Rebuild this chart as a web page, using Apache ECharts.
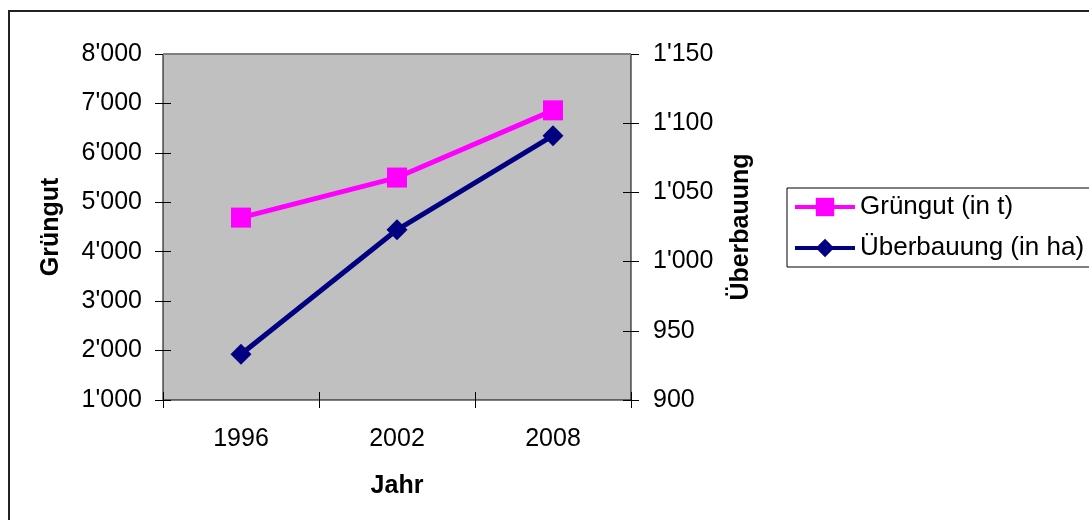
<!DOCTYPE html>
<html>
<head>
<meta charset="utf-8">
<script src="https://cdn.jsdelivr.net/npm/echarts@6/dist/echarts.min.js"></script>
<style>
  html, body { margin: 0; padding: 0; background: #fff; }
  #chart { width: 1089px; height: 520px; }
</style>
</head>
<body>
<div id="chart"></div>
<script>
// Jahre und Messwerte
const years = ['1996', '2002', '2008'];
const gruengut = [4690, 5500, 6860];      // Grüngut in t
const ueberbauung = [933, 1023, 1091];    // Überbauung in ha

const leftTicks = { min: 1000, max: 8000, interval: 1000 };
const rightTicks = { min: 900, max: 1150, interval: 50 };

const FONT = '"Liberation Sans", Arial, sans-serif';

// Tausendertrennzeichen mit Apostroph
function swiss(v) {
  return String(Math.round(v)).replace(/\B(?=(\d{3})+(?!\d))/g, "'");
}

const tickLabel = { fontFamily: FONT, fontSize: 25, color: '#000' };
const nameStyle = { fontFamily: FONT, fontSize: 25, fontWeight: 'bold', color: '#000' };
// Achsen werden um 8 px nach innen versetzt, damit die 16 px langen
// Teilstriche die Achslinie (Rahmen des Diagrammbereichs) kreuzen.
const TICK_HALF = 8;
const crossTick = { show: true, inside: false, length: TICK_HALF * 2, lineStyle: { color: '#000', width: 1 } };

const GRID = { left: 163, top: 54, right: 458, bottom: 120 };

const chart = echarts.init(document.getElementById('chart'), null, { renderer: 'canvas' });

chart.setOption({
  backgroundColor: '#fff',
  animation: false,
  graphic: [{
    type: 'rect',
    shape: { x: 9, y: 11, width: 1200, height: 600 },
    style: { fill: 'none', stroke: '#222', lineWidth: 2 },
    silent: true,
    z: -10
  }, {
    // obere Kante des Diagrammbereichs in Grau
    type: 'line',
    shape: { x1: GRID.left, y1: GRID.top, x2: 1089 - GRID.right, y2: GRID.top },
    style: { stroke: '#808080', lineWidth: 2 },
    silent: true,
    z: 1
  }],
  grid: {
    left: GRID.left, top: GRID.top, right: GRID.right, bottom: GRID.bottom,
    show: true,
    backgroundColor: '#C0C0C0',
    borderColor: '#000',
    borderWidth: 1
  },
  legend: {
    left: 787,
    top: 188,
    orient: 'vertical',
    borderColor: '#000',
    borderWidth: 1,
    padding: [6, 6, 6, 6],
    itemWidth: 60,
    itemHeight: 23,
    itemGap: 15,
    lineStyle: { width: 4 },
    textStyle: { fontFamily: FONT, fontSize: 26, color: '#000' },
    data: ['Grüngut (in t)', 'Überbauung (in ha)']
  },
  xAxis: [{
    type: 'category',
    data: years,
    position: 'bottom',
    offset: -TICK_HALF,
    boundaryGap: true,
    name: 'Jahr',
    nameLocation: 'middle',
    nameGap: 74 + TICK_HALF,
    nameTextStyle: nameStyle,
    axisLine: { show: false },
    axisTick: crossTick,
    axisLabel: Object.assign({ margin: 27 + TICK_HALF }, tickLabel),
    splitLine: { show: false }
  }],
  yAxis: [{
    type: 'value',
    position: 'left',
    offset: -TICK_HALF,
    min: leftTicks.min, max: leftTicks.max, interval: leftTicks.interval,
    name: 'Grüngut',
    nameLocation: 'middle',
    nameRotate: 90,
    nameGap: 99 + TICK_HALF,
    nameTextStyle: nameStyle,
    axisLine: { show: false },
    axisTick: crossTick,
    axisLabel: Object.assign({ margin: 21 + TICK_HALF, formatter: swiss }, tickLabel),
    splitLine: { show: false }
  }, {
    type: 'value',
    position: 'right',
    offset: -TICK_HALF,
    min: rightTicks.min, max: rightTicks.max, interval: rightTicks.interval,
    name: 'Überbauung',
    nameLocation: 'middle',
    nameRotate: 90,
    nameGap: 98 + TICK_HALF,
    nameTextStyle: nameStyle,
    axisLine: { show: false },
    axisTick: crossTick,
    axisLabel: Object.assign({ margin: 22 + TICK_HALF, formatter: swiss }, tickLabel),
    splitLine: { show: false }
  }],
  series: [{
    name: 'Grüngut (in t)',
    type: 'line',
    xAxisIndex: 0,
    yAxisIndex: 0,
    data: gruengut,
    symbol: 'rect',
    symbolSize: 20,
    showAllSymbol: true,
    lineStyle: { color: '#FF00FF', width: 5 },
    itemStyle: { color: '#FF00FF', borderWidth: 0 },
    z: 3
  }, {
    name: 'Überbauung (in ha)',
    type: 'line',
    xAxisIndex: 0,
    yAxisIndex: 1,
    data: ueberbauung,
    symbol: 'diamond',
    symbolSize: 21,
    showAllSymbol: true,
    lineStyle: { color: '#000080', width: 5 },
    itemStyle: { color: '#000080', borderWidth: 0 },
    z: 2
  }]
});
</script>
</body>
</html>
